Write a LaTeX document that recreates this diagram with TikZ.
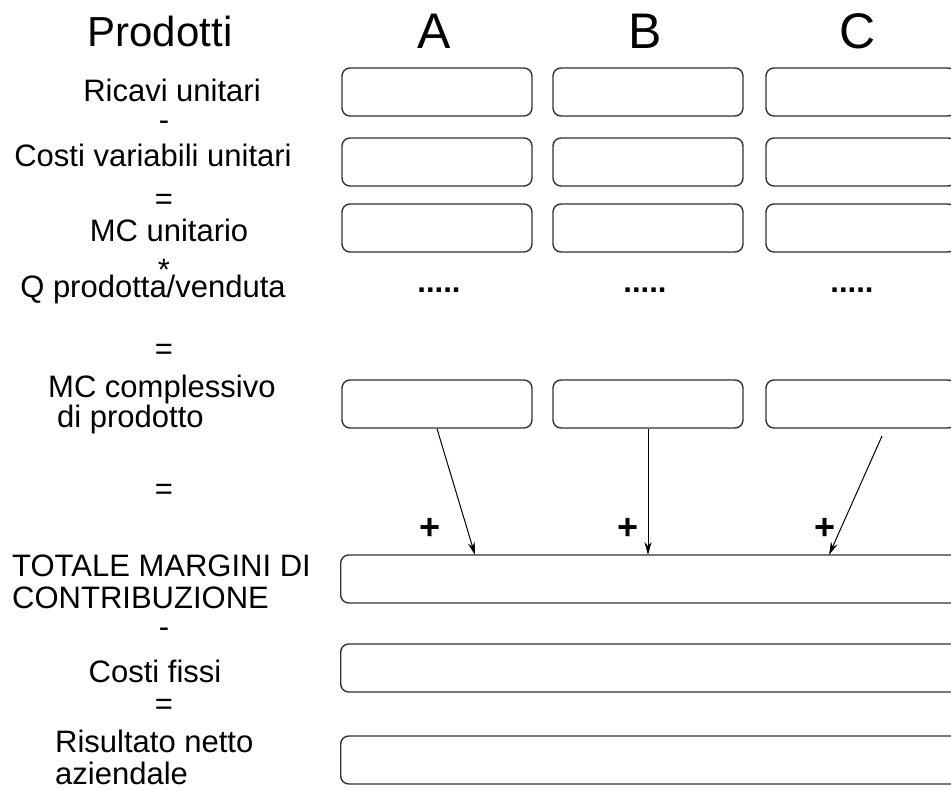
\documentclass[tikz,border=0pt]{standalone}
\usepackage{fontspec}
\setmainfont{Liberation Sans}
\usetikzlibrary{arrows.meta}

\tikzset{
  cell/.style={draw=black!80, line width=1.4pt, rounded corners=8pt,
    minimum width=190pt, minimum height=48pt, inner sep=0pt},
  wide/.style={cell, minimum width=640pt, anchor=west},
  lbl/.style={font=\fontsize{31}{32}\selectfont, inner sep=0pt, anchor=base},
  twoline/.style={inner sep=0pt, align=left, anchor=base west},
  op/.style={font=\fontsize{31}{31}\selectfont, inner sep=0pt},
  head/.style={font=\fontsize{50}{50}\selectfont, inner sep=0pt, anchor=base},
  plus/.style={font=\bfseries\fontsize{36}{36}\selectfont, inner sep=0pt},
  feed/.style={-{Stealth[length=13pt,width=7pt]}, line width=1pt},
}

\begin{document}
\begin{tikzpicture}[x=1pt, y=-1pt]
  \clip (0,0) rectangle (951,791);
  \fill[white] (0,0) rectangle (951,791);

  \node[head, font=\fontsize{42}{42}\selectfont] (prodotti) at (160,47) {Prodotti};

  \foreach \prod/\x/\xdots in {A/437/439, B/648/645, C/861/852}{
    \node[head] (head\prod) at (\x-3,49) {\prod};
    \foreach \row/\y in {1/92, 2/162, 3/228, 4/404}
      \node[cell] (\prod\row) at (\x,\y) {};
    \node[lbl, font=\bfseries\fontsize{31}{32}\selectfont] (dots\prod) at (\xdots,293) {.....};
  }

  \node[lbl] (ricavi) at (172,102) {Ricavi unitari};
  \node[lbl] (costivar) at (153,167) {Costi variabili unitari};
  \node[lbl] (mcunit) at (169,242) {MC unitario};
  \node[lbl] (quant) at (153,298) {Q prodotta/venduta};
  \node[twoline, font=\fontsize{31}{30}\selectfont] (mctot) at (48,428)
    {MC complessivo\\\hspace*{9pt}di prodotto};
  \node[twoline, font=\fontsize{31}{32}\selectfont] (totlbl) at (12,608)
    {TOTALE MARGINI DI\\CONTRIBUZIONE};
  \node[lbl] (fissi) at (155,682) {Costi fissi};
  \node[twoline, font=\fontsize{31}{32}\selectfont] (netto) at (55,784)
    {Risultato netto\\aziendale};

  \foreach \sym/\y [count=\i] in {-/126, =/202, */270, =/352, =/492, -/633, =/707}
    \node[op] (op\i) at (164,\y) {\sym};

  \node[wide] (tot) at (340,579) {};
  \node[wide] (fixed) at (340,668) {};
  \node[wide] (result) at (340,760) {};

  \foreach \x [count=\i] in {430,628,825}
    \node[plus] (plus\i) at (\x,529) {+};

  \coordinate (tipA) at (475,555);
  \coordinate (tipB) at (648,555);
  \coordinate (tailC) at (882,436);
  \coordinate (tipC) at (829,555);
  \draw[feed] (A4.south) -- (tipA);
  \draw[feed] (B4.south) -- (tipB);
  \draw[feed] (tailC) -- (tipC);
\end{tikzpicture}
\end{document}
